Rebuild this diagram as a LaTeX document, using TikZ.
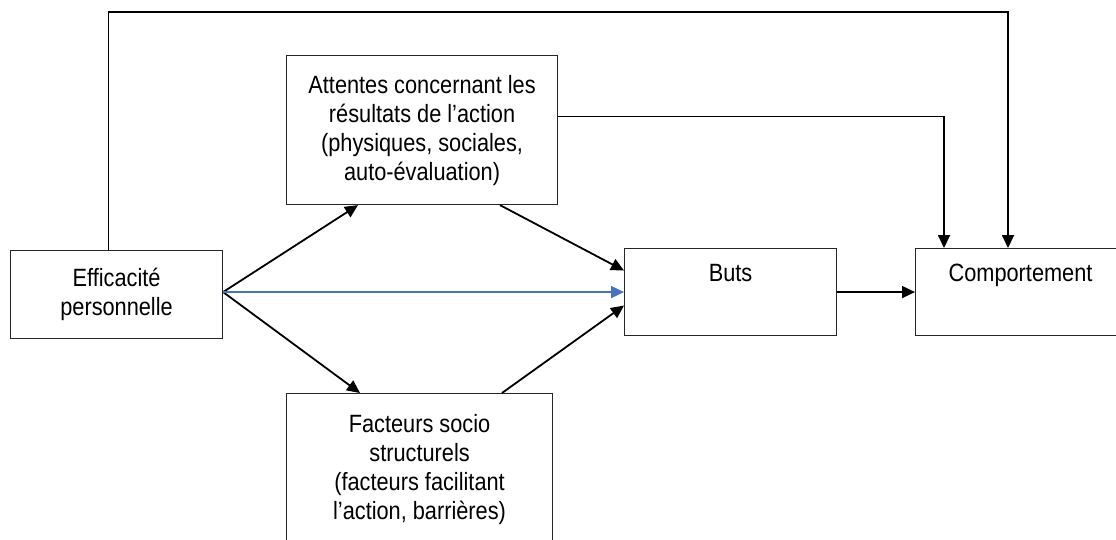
\documentclass[tikz,border=0pt]{standalone}
\usepackage{fontspec}
\setmainfont{Liberation Sans}[FakeStretch=0.87]
\usetikzlibrary{arrows.meta,calc}
\definecolor{linkblue}{RGB}{68,114,196}
\tikzset{
  box/.style={draw=black!85, line width=1.1pt, rectangle, inner sep=0pt,
    align=center, font=\fontsize{25}{29}\selectfont, anchor=north west},
  link/.style={line width=1.8pt, -{Triangle[length=13pt,width=12pt]}},
}
\begin{document}
\begin{tikzpicture}[x=1pt,y=-1pt]
\clip (0,0) rectangle (1116,539);
\fill[white] (0,0) rectangle (1116,539);

% boxes
\node[box, minimum width=212pt, minimum height=88pt] (eff) at (10,250)
  {Efficacité\\personnelle};
\node[box, minimum width=271pt, minimum height=149pt] (att) at (286,55)
  {Attentes concernant les\\résultats de l’action\\(physiques, sociales,\\auto-évaluation)};
\node[box, minimum width=212pt, minimum height=87pt] (buts) at (624,248)
  {Buts\\[9pt]\mbox{}};
\node[box, minimum width=210pt, minimum height=87pt] (comp) at (915,248)
  {Comportement\\[9pt]\mbox{}};
\node[box, minimum width=266pt, minimum height=152pt] (fac) at (286,393)
  {Facteurs socio\\structurels\\(facteurs facilitant\\l’action, barrières)};

% connectors leaving the self-efficacy box share one point on its right side
\coordinate (effout) at (buts.west -| eff.east);
\draw[link] (effout) -- ([xshift=72pt]att.south west);
\draw[link] (effout) -- ([xshift=74pt]fac.north west);
\draw[link, linkblue] (effout) -- (buts.west);
\draw[link] ([xshift=214pt]att.south west) -- ([yshift=21.5pt]buts.west);
\draw[link] ([xshift=216pt]fac.north west) -- ([yshift=-13.5pt]buts.west);
\draw[link] (buts.east) -- (comp.west);
\draw[link] ([yshift=13.5pt]att.east) -| ([xshift=29pt]comp.north west);

\coordinate (effup) at ([xshift=-8pt]eff.north);
\coordinate (compin) at ([xshift=93pt]comp.north west);
\coordinate (topy) at (0,12);
\draw[link] (effup) -- (effup |- topy) -| (compin);
\end{tikzpicture}
\end{document}
